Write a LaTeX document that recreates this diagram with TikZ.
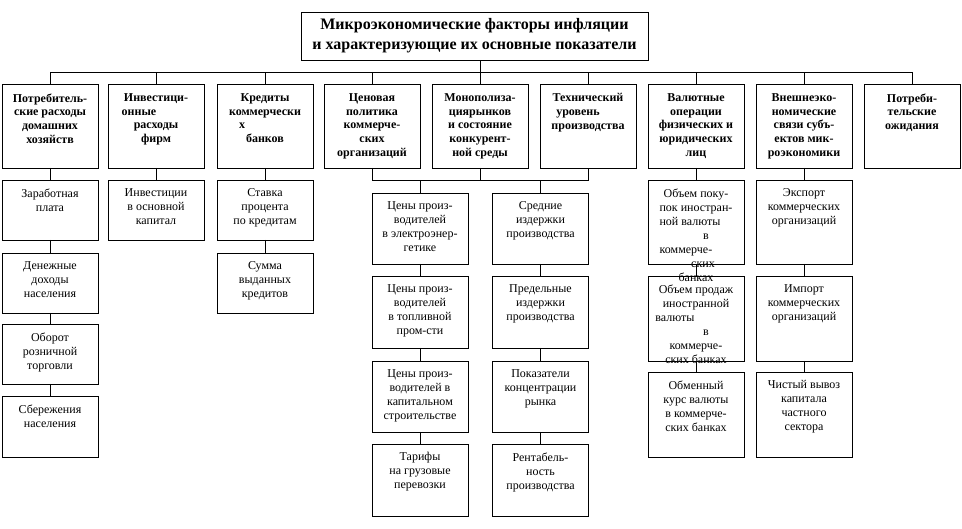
\documentclass[tikz,border=0pt]{standalone}
\usepackage{fontspec}
\setmainfont{Liberation Serif}

\begin{document}
\begin{tikzpicture}[
		x=1pt, y=-1pt,
		line width=0.9pt,
		box/.style={draw, anchor=north, minimum width=96, inner sep=0pt, outer sep=0pt},
		head/.style={box, minimum height=84},
		cell/.style={box, minimum height=#1},
		htxt/.style={anchor=north, align=center, inner xsep=0pt, inner ysep=9pt, font=\bfseries\fontsize{12}{13.8}\selectfont},
		ctxt/.style={anchor=north, align=center, inner xsep=0pt, inner ysep=8pt, font=\fontsize{12}{14}\selectfont}
		]
		
		\useasboundingbox (0,0) rectangle (962,529);
		
		% Title
		\node[draw, minimum width=347, minimum height=48, inner sep=0pt, align=center,
		font=\bfseries\fontsize{16}{20}\selectfont] (title) at (474.5,36)
		{Микроэкономические факторы инфляции\\и характеризующие их основные показатели};
		
		% Factors
		\node[head, label={[htxt]north:{Потребитель-\\ские расходы\\домашних\\хозяйств}}] (h1) at (50,84) {};
		\node[head, label={[htxt]north:{Инвестици-\\онные\hspace*{34pt}\null\\расходы\\фирм}}] (h2) at (156,84) {};
		\node[head, label={[htxt]north:{Кредиты\\коммерчески\\х\hspace*{46pt}\null\\банков}}] (h3) at (265,84) {};
		\node[head, label={[htxt]north:{Ценовая\\политика\\коммерче-\\ских\\организаций}}] (h4) at (372,84) {};
		\node[head, label={[htxt]north:{Монополиза-\\циярынков\\и состояние\\конкурент-\\ной среды}}] (h5) at (480,84) {};
		\node[head, label={[htxt]north:{Технический\\уровень\hspace*{20pt}\null\\производства}}] (h6) at (588,84) {};
		\node[head, label={[htxt]north:{Валютные\\операции\\физических и\\юридических\\лиц}}] (h7) at (696,84) {};
		\node[head, label={[htxt]north:{Внешнеэко-\\номические\\связи субъ-\\ектов мик-\\роэкономики}}] (h8) at (804,84) {};
		\node[head, label={[htxt]north:{Потреби-\\тельские\\ожидания}}] (h9) at (912,84) {};
		
		% Indicators
		\node[cell=60, label={[ctxt]north:{Заработная\\плата}}] (c11) at (50,180) {};
		\node[cell=60, label={[ctxt]north:{Денежные\\доходы\\населения}}] (c12) at (50,253) {};
		\node[cell=60, label={[ctxt]north:{Оборот\\розничной\\торговли}}] (c13) at (50,324) {};
		\node[cell=61, label={[ctxt]north:{Сбережения\\населения}}] (c14) at (50,396) {};
		
		\node[cell=60, label={[ctxt]north:{Инвестиции\\в основной\\капитал}}] (c21) at (156,180) {};
		
		\node[cell=60, label={[ctxt]north:{Ставка\\процента\\по кредитам}}] (c31) at (265,180) {};
		\node[cell=60, label={[ctxt]north:{Сумма\\выданных\\кредитов}}] (c32) at (265,253) {};
		
		\node[cell=71, label={[ctxt]north:{Цены произ-\\водителей\\в электроэнер-\\гетике}}] (a1) at (420,193) {};
		\node[cell=72, label={[ctxt]north:{Цены произ-\\водителей\\в топливной\\пром-сти}}] (a2) at (420,276) {};
		\node[cell=71, label={[ctxt]north:{Цены произ-\\водителей  в\\капитальном\\строительстве}}] (a3) at (420,361) {};
		\node[cell=72, label={[ctxt]north:{Тарифы\\на грузовые\\перевозки}}] (a4) at (420,444) {};
		
		\node[cell=71, label={[ctxt]north:{Средние\\издержки\\производства}}] (b1) at (540.5,193) {};
		\node[cell=72, label={[ctxt]north:{Предельные\\издержки\\производства}}] (b2) at (540.5,276) {};
		\node[cell=71, label={[ctxt]north:{Показатели\\концентрации\\рынка}}] (b3) at (540.5,361) {};
		\node[cell=72, label={[ctxt]north:{Рентабель-\\ность\\производства}}] (b4) at (540.5,444) {};
		
		\node[cell=84, label={[ctxt]north:{Объем поку-\\пок иностран-\\ной валюты\hspace*{12pt}\null\\\hspace*{20pt}в\\коммерче-\hspace*{20pt}\null\\\hspace*{14pt}ских\\банках}}] (v1) at (696,180) {};
		\node[cell=85, label={[ctxt]north:{Объем продаж\\иностранной\\валюты\hspace*{42pt}\null\\\hspace*{20pt}в\\коммерче-\\ских банках}}] (v2) at (696,276) {};
		\node[cell=85, label={[ctxt]north:{Обменный\\курс валюты\\в коммерче-\\ских банках}}] (v3) at (696,372) {};
		
		\node[cell=84, label={[ctxt]north:{Экспорт\\коммерческих\\организаций}}] (e1) at (804,180) {};
		\node[cell=85, label={[ctxt]north:{Импорт\\коммерческих\\организаций}}] (e2) at (804,276) {};
		\node[cell=85, label={[ctxt]north:{Чистый вывоз\\капитала\\частного\\сектора}}] (e3) at (804,372) {};
		
		% Bus under the title
		\draw (h1.north) -- ++(0,-12) -| (h9.north);
		\foreach \n in {h2,h3,h4,h5,h6,h7,h8}
		\draw (\n.north) -- ++(0,-12);
		\draw (title.south -| h5.north) -- (h5.north);
		
		% Joint of the middle factors
		\draw (h4.south) -- ++(0,12.5) -| (h6.south);
		\draw (h5.south) -- ++(0,12.5);
		\draw (a1.north) -- ++(0,-12.5);
		\draw (b1.north) -- ++(0,-12.5);
		
		% Columns
		\foreach \u/\v in {h1/c11, c11/c12, c12/c13, c13/c14, h2/c21, h3/c31, c31/c32,
			a1/a2, a2/a3, a3/a4, b1/b2, b2/b3, b3/b4,
			h7/v1, v1/v2, v2/v3, h8/e1, e1/e2, e2/e3}
		\draw (\u.south) -- (\v.north);
		
	\end{tikzpicture}
\end{document}
